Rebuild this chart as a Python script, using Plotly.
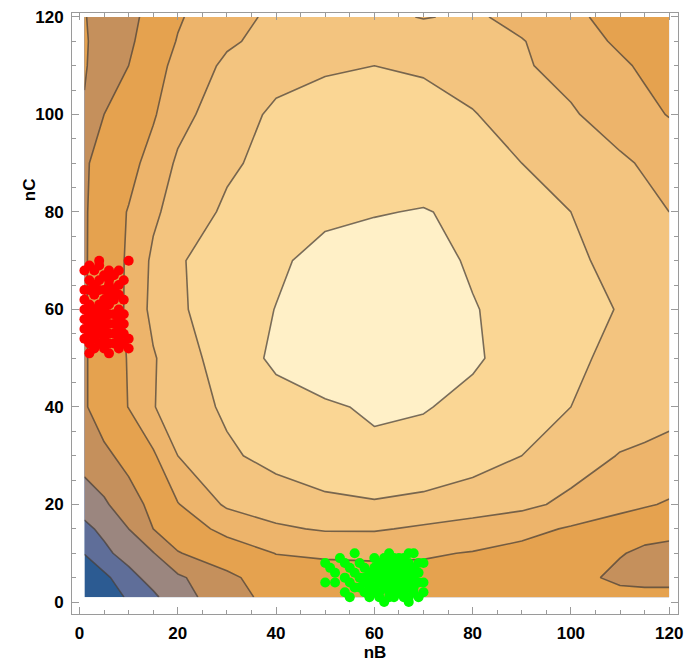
import plotly.graph_objects as go

# ---------------- data ----------------
x_nodes = [1, 5, 10, 15, 20, 30, 40, 50, 60, 70, 80, 90, 100, 110, 115, 120]
y_nodes = [1, 5, 10, 15, 20, 30, 40, 50, 60, 70, 80, 90, 100, 110, 115, 120]

# field values (rows follow y_nodes, columns follow x_nodes)
z_rows = [
    [-0.6, -0.05, 0.63, 1.33, 2.06, 3.14, 3.8, 3.9, 3.95, 3.7, 3.6, 3.6, 3.7, 3.8, 3.8, 3.8],
    [-0.5, 0.25, 1.2, 1.84, 2.33, 3.3, 4.0, 4.2, 4.25, 4.2, 4.1, 4.0, 3.8, 3.3, 3.2, 3.2],
    [0.55, 1.3, 1.85, 2.45, 3.45, 4.0, 4.52, 4.6, 4.62, 4.6, 4.45, 4.2, 4.0, 3.55, 3.35, 3.3],
    [1.3, 1.7, 2.5, 3.5, 4.0, 4.75, 5.35, 5.6, 5.6, 5.35, 5.1, 4.8, 4.4, 4.0, 3.8, 3.7],
    [1.85, 2.35, 3.1, 3.75, 4.45, 5.65, 6.0, 6.25, 6.4, 6.25, 6.0, 5.75, 5.25, 4.8, 4.6, 4.4],
    [3.0, 3.3, 3.8, 4.35, 5.5, 6.35, 6.8, 7.2, 7.35, 7.2, 6.9, 6.5, 6.0, 5.45, 5.35, 5.3],
    [3.4, 4.0, 4.52, 5.45, 6.0, 6.65, 7.1, 7.4, 7.6, 7.55, 7.3, 7.0, 6.5, 6.1, 5.9, 5.7],
    [3.4, 4.0, 4.55, 5.4, 6.1, 6.9, 7.7, 8.0, 8.1, 8.0, 7.6, 7.2, 6.65, 6.3, 6.2, 6.1],
    [3.4, 4.1, 4.6, 5.8, 6.35, 7.05, 7.52, 8.0, 8.1, 8.0, 7.55, 7.2, 6.85, 6.45, 6.3, 6.2],
    [3.4, 4.05, 4.6, 5.7, 6.4, 7.0, 7.35, 7.8, 7.9, 7.8, 7.4, 7.0, 6.7, 6.2, 6.1, 6.0],
    [3.4, 4.0, 4.55, 5.3, 5.95, 6.65, 7.0, 7.3, 7.45, 7.55, 7.3, 6.95, 6.5, 6.0, 5.75, 5.5],
    [3.4, 3.8, 4.2, 4.85, 5.65, 6.35, 6.8, 7.0, 7.1, 7.0, 6.85, 6.5, 6.15, 5.65, 5.4, 5.2],
    [3.45, 3.5, 3.95, 4.4, 5.15, 6.1, 6.65, 6.85, 6.9, 6.8, 6.55, 6.1, 5.6, 5.05, 4.75, 4.45],
    [3.55, 3.2, 3.5, 4.15, 4.75, 5.7, 6.2, 6.4, 6.5, 6.4, 6.1, 5.6, 5.2, 4.65, 4.35, 4.1],
    [3.6, 3.1, 3.35, 3.95, 4.55, 5.35, 5.85, 6.1, 6.2, 6.05, 5.85, 5.55, 4.95, 4.35, 4.15, 4.0],
    [3.55, 3.1, 3.3, 3.75, 4.4, 5.15, 5.7, 5.8, 5.75, 5.45, 5.65, 5.2, 4.65, 4.25, 4.1, 4.0],
]

band_colors = ["#2C5B92", "#5F6E99", "#9B867F", "#C5905C", "#E5A24F",
               "#EDB46B", "#F3C47F", "#FAD694", "#FFF0C7"]

red_x = [4, 10, 4, 2, 1, 3, 6, 8, 5, 7, 2, 4, 6, 9, 3, 6, 8, 1, 2, 4, 5, 7,
         3, 6, 8, 1, 5, 7, 9, 2, 4, 6, 1, 3, 5, 8, 2, 4, 6, 7, 9, 1, 3, 5, 8,
         2, 4, 6, 7, 9, 1, 3, 5, 8, 2, 4, 6, 7, 9, 1, 3, 5, 8, 10, 2, 4, 6, 7, 9,
         3, 5, 8, 10, 2, 6]
red_y = [70, 70, 69, 69, 68, 68, 68, 68, 67, 67, 66, 66, 66, 66, 65, 65, 65,
         64, 64, 64, 64, 64, 63, 63, 63, 62, 62, 62, 62, 61, 61, 61, 60, 60, 60, 60,
         59, 59, 59, 59, 59, 58, 58, 58, 58, 57, 57, 57, 57, 57, 56, 56, 56, 56,
         55, 55, 55, 55, 55, 54, 54, 54, 54, 54, 53, 53, 53, 53, 53,
         52, 52, 52, 52, 51, 51]

green_x = [56, 63, 67, 68,
           53, 60, 62, 64, 65, 66,
           50, 54, 57, 61, 63, 64, 66, 67, 69, 70,
           51, 55, 58, 60, 62, 63, 64, 65, 66, 67, 68,
           52, 56, 59, 60, 61, 62, 63, 64, 65, 66, 67, 68, 69,
           54, 57, 58, 60, 61, 62, 63, 64, 65, 66, 67, 68,
           50, 52, 55, 58, 59, 61, 62, 63, 64, 65, 66, 67, 69, 70,
           56, 57, 59, 60, 62, 63, 64, 65, 66, 67, 68,
           54, 58, 60, 61, 63, 64, 65, 66, 68, 70,
           55, 59, 61, 63, 64, 66, 67, 69,
           62, 67]
green_y = [10, 10, 10, 10,
           9, 9, 9, 9, 9, 9,
           8, 8, 8, 8, 8, 8, 8, 8, 8, 8,
           7, 7, 7, 7, 7, 7, 7, 7, 7, 7, 7,
           6, 6, 6, 6, 6, 6, 6, 6, 6, 6, 6, 6, 6,
           5, 5, 5, 5, 5, 5, 5, 5, 5, 5, 5, 5,
           4, 4, 4, 4, 4, 4, 4, 4, 4, 4, 4, 4, 4, 4,
           3, 3, 3, 3, 3, 3, 3, 3, 3, 3, 3,
           2, 2, 2, 2, 2, 2, 2, 2, 2, 2,
           1, 1, 1, 1, 1, 1, 1, 1,
           0, 0]

x_ticks = [0, 20, 40, 60, 80, 100, 120]
y_ticks = [0, 20, 40, 60, 80, 100, 120]

# ---------------- figure ----------------
n = len(band_colors) - 1
colorscale = [[i / n, c] for i, c in enumerate(band_colors)]

fig = go.Figure()
fig.add_trace(go.Contour(
    x=x_nodes, y=y_nodes, z=z_rows,
    autocontour=False,
    contours=dict(start=0.5, end=7.5, size=1, coloring="fill", showlines=True),
    colorscale=colorscale, showscale=False,
    line=dict(color="rgba(70,62,55,0.72)", width=1.6, smoothing=0),
    hoverinfo="skip",
))
fig.add_trace(go.Scatter(x=red_x, y=red_y, mode="markers",
                         marker=dict(color="#FF0000", size=10, line=dict(width=0))))
fig.add_trace(go.Scatter(x=green_x, y=green_y, mode="markers",
                         marker=dict(color="#00FF00", size=10, line=dict(width=0))))

tickfont = dict(family="Liberation Sans", size=17, color="black", weight="bold")
titlefont = dict(family="Liberation Sans", size=17, color="black", weight="bold")
axis_common = dict(
    showline=True, linecolor="#9a9a9a", linewidth=1, mirror="ticks",
    ticks="inside", ticklen=7, tickcolor="#9a9a9a", tickwidth=1,
    showgrid=False, zeroline=False, tickfont=tickfont, automargin=False,
    ticklabelstandoff=4,
    minor=dict(ticks="inside", dtick=5, ticklen=4, tickcolor="#9a9a9a", showgrid=False),
)
fig.update_xaxes(range=[-1.53, 121.8], tickvals=x_ticks,
                 title=dict(text="nB", font=titlefont, standoff=2),
                 **axis_common)
fig.update_yaxes(range=[-2.46, 120.8], tickvals=y_ticks, **axis_common)
fig.add_annotation(text="nC", xref="paper", yref="y", x=-0.069, y=84.5,
                   textangle=-90, showarrow=False, font=titlefont,
                   xanchor="center", yanchor="middle")
fig.update_layout(width=685, height=665, margin=dict(l=72, r=7, t=13, b=51),
                  plot_bgcolor="white", paper_bgcolor="white", showlegend=False,
                  hovermode=False)

fig.write_html("out.html", config={"displayModeBar": False},
               post_script="document.body.style.margin='0';document.body.style.padding='0';")
